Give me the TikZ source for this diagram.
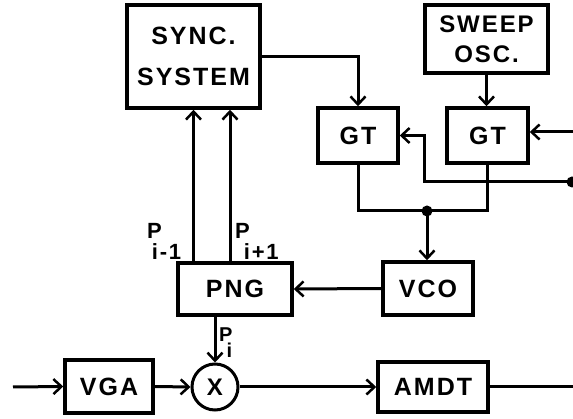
\documentclass[tikz,border=0pt]{standalone}
\usepackage{fontspec}
\setmainfont{Liberation Sans}[LetterSpace=8]
\usetikzlibrary{arrows.meta,calc}
\begin{document}
\begin{tikzpicture}[x=1pt,y=-1pt,
  box/.style={draw, line width=3.5pt, inner sep=0pt, align=center,
    font=\bfseries\fontsize{25}{28}\selectfont},
  conn/.style={line width=3pt},
  arr/.style={conn, -{Straight Barb[length=8pt,width=15pt,line width=2.5pt]}},
  dot/.style={circle, fill, inner sep=0pt, minimum size=11pt},
  lbl/.style={inner sep=0pt, align=left, font=\bfseries\fontsize{22}{22}\selectfont}]
\useasboundingbox (0,0) rectangle (573,419);
% boxes
\node[box, minimum width=133pt, minimum height=103pt,
  font=\bfseries\fontsize{25}{41}\selectfont] (sync) at (193.5,56.5) {SYNC.\\SYSTEM};
\node[box, minimum width=123pt, minimum height=68pt,
  font=\bfseries\fontsize{24}{30}\selectfont] (sweep) at (486.5,39) {SWEEP\\OSC.};
\node[box, minimum width=80pt, minimum height=55pt] (gt1) at (358,135.5) {GT};
\node[box, minimum width=81pt, minimum height=55pt] (gt2) at (487.5,135.5) {GT};
\node[box, minimum width=90pt, minimum height=53pt] (vco) at (428,288.5) {VCO};
\node[box, minimum width=114pt, minimum height=52pt] (png) at (235,289) {PNG};
\node[box, minimum width=88pt, minimum height=53pt] (vga) at (109,386.5) {VGA};
\node[box, minimum width=110pt, minimum height=50pt] (amdt) at (433,387) {AMDT};
\node[draw, circle, line width=3pt, inner sep=0pt, minimum size=46pt, align=center,
  font=\bfseries\fontsize{24}{24}\selectfont] (mult) at (215,387) {X};
% junctions and free ends
\node[dot] (dj) at (427,211) {};
\node[dot] (dr) at (572,182) {};
\coordinate (rin) at (573,132);
\coordinate (in) at (13,387);
\coordinate (out) at (573,387);
\coordinate (s1) at (sync.south);
\coordinate (s2) at ([xshift=36.5pt]sync.south);
% connectors
\draw[arr] (sync.east) -| (gt1.north);
\draw[arr] (sweep.south) -- (sweep.south |- gt2.north);
\draw[arr] (rin) -- (rin -| gt2.east);
\draw[arr] (dr.center) -| ($(gt1.east)+(25,0)$) -- (gt1.east);
\draw[conn] (gt1.south) |- (dj.center) -| (gt2.south);
\draw[arr] (dj.center) -- (dj.center |- vco.north);
\draw[arr] (vco.west) -- (png.east);
\draw[arr] (s1 |- png.north) -- (s1);
\draw[arr] (s2 |- png.north) -- (s2);
\draw[arr] (mult.north |- png.south) -- (mult.north);
\draw[arr] (in) -- (vga.west);
\draw[arr] (vga.east) -- (mult.west);
\draw[arr] (mult.east) -- (amdt.west);
\draw[conn] (amdt.east) -- (out);
% labels
\node[lbl, anchor=base west] (lm1) at (147,239) {P\kern-10pt\raisebox{-21pt}{i-1}};
\node[lbl, anchor=base west] (lp1) at (235,239) {P\kern-6pt\raisebox{-21pt}{i+1}};
\node[lbl, anchor=base west, font=\bfseries\fontsize{20}{20}\selectfont] (li) at (219,342) {P\kern-6pt\raisebox{-16pt}{i}};
\end{tikzpicture}
\end{document}
